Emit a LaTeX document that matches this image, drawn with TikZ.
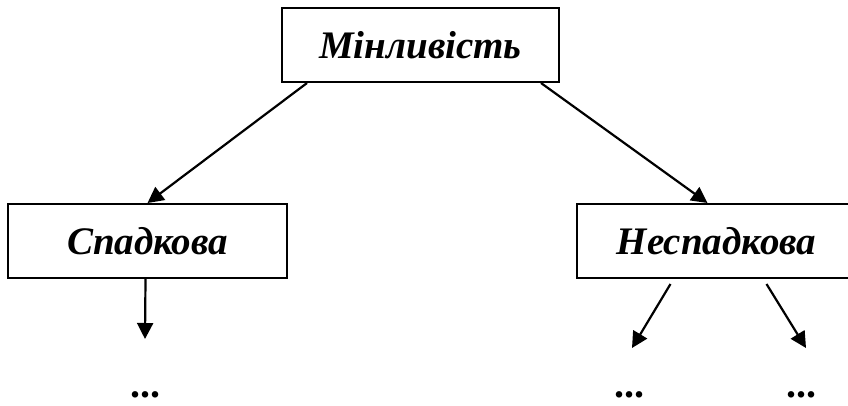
\documentclass[tikz,border=0pt]{standalone}
\usepackage{fontspec}
\setmainfont{Liberation Serif}
\usetikzlibrary{arrows.meta,calc}
\begin{document}
\begin{tikzpicture}[x=1pt,y=-1pt,
  box/.style={draw,line width=2pt,minimum width=277pt,minimum height=74pt,inner sep=0pt,
    font=\fontsize{39}{44}\selectfont\bfseries\itshape},
  arr/.style={line width=2.2pt,-{Triangle[length=16pt,width=16pt]}},
  dots/.style={font=\fontsize{40}{44}\selectfont\bfseries,inner sep=0pt,text height=7pt,text depth=0pt}]
\useasboundingbox (0,0) rectangle (848,405);
\node[box] (top) at (420.5,45) {Мінливість};
\node[box,minimum width=279pt] (left) at (147.5,241) {Спадкова};
\node[box,minimum width=279pt] (right) at (716.5,241) {Неспадкова};
\node[dots] (d1) at (145,394) {...};
\node[dots] (d2) at (629,394) {...};
\node[dots] (d3) at (801,394) {...};
\coordinate (e1) at (145,339);
\coordinate (e2) at (632,348);
\coordinate (e3) at (806,348);
\draw[arr] ($(top.south west)+(26,0)$) -- (left.north);
\draw[arr] ($(top.south east)+(-19,0)$) -- ($(right.north)+(-9,0)$);
\draw[arr] ($(left.south)+(-2,0)$) -- (e1);
\draw[arr] ($(right.south)+(-46,5)$) -- (e2);
\draw[arr] ($(right.south)+(50,5)$) -- (e3);
\end{tikzpicture}
\end{document}
